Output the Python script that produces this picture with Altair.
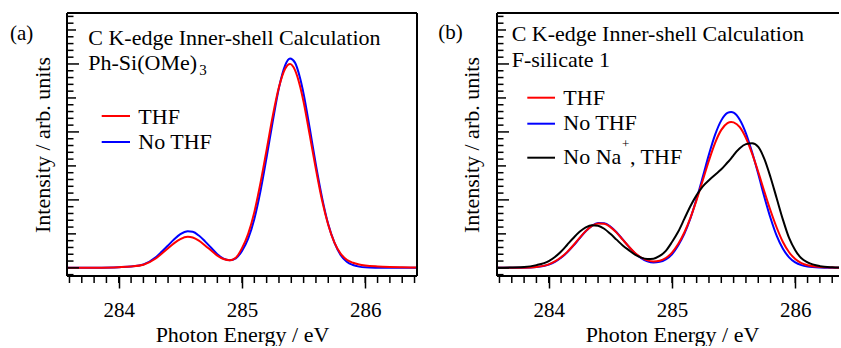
import altair as alt
import pandas as pd

# ---------------- spectra: panel (a) Ph-Si(OMe)3 ----------------
energy_a = [283.58, 283.8, 284.0, 284.1, 284.2, 284.3, 284.35, 284.4, 284.45, 284.5,
            284.56, 284.6, 284.65, 284.7, 284.75, 284.8, 284.85, 284.9, 284.95, 285.0,
            285.05, 285.1, 285.15, 285.2, 285.25, 285.3, 285.35, 285.39, 285.43, 285.47,
            285.5, 285.55, 285.6, 285.65, 285.7, 285.75, 285.8, 285.85, 285.9, 285.95,
            286.0, 286.1, 286.2, 286.3, 286.42]
thf_a = [0.0, 0.002, 0.01, 0.02, 0.046, 0.137, 0.21, 0.287, 0.364, 0.424,
         0.456, 0.446, 0.40, 0.33, 0.255, 0.18, 0.13, 0.112, 0.15, 0.29,
         0.5, 0.82, 1.25, 1.74, 2.24, 2.66, 2.93, 3.0, 2.91, 2.68,
         2.44, 1.95, 1.45, 0.99, 0.63, 0.37, 0.21, 0.12, 0.075, 0.05,
         0.035, 0.02, 0.012, 0.008, 0.005]
no_thf_a = [0.0, 0.002, 0.01, 0.02, 0.05, 0.155, 0.24, 0.33, 0.42, 0.495,
            0.538, 0.53, 0.475, 0.39, 0.295, 0.2, 0.135, 0.112, 0.14, 0.25,
            0.43, 0.72, 1.13, 1.63, 2.16, 2.65, 2.98, 3.08, 3.02, 2.8,
            2.56, 2.05, 1.51, 1.03, 0.64, 0.37, 0.19, 0.09, 0.042, 0.018,
            0.007, 0.002, 0.0, 0.0, 0.0]

# ---------------- spectra: panel (b) F-silicate 1 ----------------
energy_b = [283.58, 283.8, 283.9, 284.0, 284.05, 284.1, 284.15, 284.2, 284.25, 284.3,
            284.35, 284.4, 284.45, 284.5, 284.55, 284.6, 284.65, 284.7, 284.75, 284.8,
            284.85, 284.9, 284.95, 285.0, 285.05, 285.1, 285.15, 285.2, 285.25, 285.3,
            285.35, 285.4, 285.45, 285.48, 285.5, 285.55, 285.6, 285.65, 285.7, 285.75,
            285.8, 285.85, 285.9, 285.95, 286.0, 286.05, 286.1, 286.2, 286.3, 286.37]
thf_b = [0.0, 0.003, 0.014, 0.052, 0.094, 0.155, 0.235, 0.333, 0.44, 0.54,
         0.617, 0.654, 0.648, 0.6, 0.518, 0.415, 0.312, 0.22, 0.152, 0.11,
         0.095, 0.105, 0.145, 0.225, 0.35, 0.52, 0.74, 1.0, 1.29, 1.58,
         1.84, 2.03, 2.13, 2.147, 2.14, 2.07, 1.91, 1.68, 1.41, 1.12,
         0.84, 0.59, 0.38, 0.23, 0.13, 0.07, 0.037, 0.012, 0.004, 0.002]
no_thf_b = [0.0, 0.002, 0.012, 0.048, 0.088, 0.148, 0.228, 0.326, 0.434, 0.538,
            0.618, 0.66, 0.657, 0.608, 0.524, 0.418, 0.312, 0.216, 0.144, 0.098,
            0.08, 0.088, 0.125, 0.2, 0.33, 0.5, 0.73, 1.02, 1.34, 1.67,
            1.96, 2.17, 2.28, 2.294, 2.285, 2.18, 1.98, 1.7, 1.38, 1.04,
            0.73, 0.47, 0.28, 0.155, 0.08, 0.04, 0.02, 0.005, 0.001, 0.0]
no_na_thf_b = [0.002, 0.013, 0.04, 0.1, 0.16, 0.24, 0.34, 0.44, 0.53, 0.595,
               0.628, 0.62, 0.575, 0.5, 0.415, 0.33, 0.26, 0.195, 0.15, 0.13,
               0.135, 0.175, 0.25, 0.38, 0.53, 0.72, 0.91, 1.07, 1.2, 1.29,
               1.37, 1.45, 1.55, 1.61, 1.66, 1.76, 1.82, 1.835, 1.78, 1.6,
               1.33, 1.02, 0.71, 0.44, 0.26, 0.14, 0.08, 0.025, 0.008, 0.003]

# ---------------- axis ticks ----------------
x_major = [284, 285, 286]
x_minor = [round(283.6 + 0.1 * i, 1) for i in range(29)]
y_ticks = [round(-0.1 + 0.1 * i, 1) for i in range(39)]

FONT = "Times New Roman, Liberation Serif, serif"
PLOT_H = 263
EV_MIN = 283.58
PX_PER_EV = 350 / 2.84
Y_DOMAIN = [-0.12, 3.75]
RED = "#ff0000"
BLUE = "#0000ff"
BLACK = "#000000"


def one_row():
    return pd.DataFrame({"k": [0]})


def text(label, x, y, size=22, align="left", baseline="alphabetic"):
    return alt.Chart(pd.DataFrame({"label": [label]})).mark_text(
        font=FONT, fontSize=size, align=align, baseline=baseline, color="black"
    ).encode(x=alt.value(x), y=alt.value(y), text="label:N")


def hline(x1, x2, y, color="black", width=2):
    return alt.Chart(one_row()).mark_rule(color=color, strokeWidth=width).encode(
        x=alt.value(x1), x2=alt.value(x2), y=alt.value(y))


def vline(x, y1, y2, color="black", width=2):
    return alt.Chart(one_row()).mark_rule(color=color, strokeWidth=width).encode(
        x=alt.value(x), y=alt.value(y1), y2=alt.value(y2))


def panel(energy, curves, width, y_title_x, annotations, right_edge):
    x_max = EV_MIN + width / PX_PER_EV
    xs = alt.Scale(domain=[EV_MIN, x_max], nice=False, zero=False)
    ys = alt.Scale(domain=Y_DOMAIN, nice=False, zero=False)

    x_axis = alt.Axis(
        values=x_major, format="d", grid=False, domain=False,
        tickSize=12, tickWidth=1.5, tickColor="black",
        labelFont=FONT, labelFontSize=21, labelColor="black",
        labelPadding=28.8, labelBaseline="alphabetic",
        title="Photon Energy / eV", titleFont=FONT, titleFontSize=22,
        titleFontWeight="normal", titleColor="black",
        titleX=175, titleY=65.5, titleBaseline="alphabetic", titleAlign="center",
    )
    y_axis = alt.Axis(
        labels=False, ticks=False, domain=False, grid=False,
        title="Intensity / arb. units", titleFont=FONT, titleFontSize=22,
        titleFontWeight="normal", titleColor="black",
        titleX=y_title_x, titleY=PLOT_H / 2, titleAngle=270,
        titleBaseline="alphabetic", titleAlign="center",
    )

    layers = []
    for values, color in curves:
        df = pd.DataFrame({"energy": energy, "intensity": values})
        layers.append(
            alt.Chart(df).mark_line(color=color, strokeWidth=2, clip=True,
                                    interpolate="monotone").encode(
                x=alt.X("energy:Q", scale=xs, axis=x_axis),
                y=alt.Y("intensity:Q", scale=ys, axis=y_axis),
            )
        )

    # minor ticks on the energy axis, pointing outwards
    minor = pd.DataFrame({"tick": [t for t in x_minor if t <= x_max]})
    layers.append(
        alt.Chart(minor).mark_rule(color="black", strokeWidth=1.5).encode(
            x=alt.X("tick:Q", scale=xs, axis=x_axis),
            y=alt.value(PLOT_H), y2=alt.value(PLOT_H + 7))
    )

    # intensity ticks drawn inside the frame: major, half and minor steps
    yt = pd.DataFrame({"tick": y_ticks})
    yt["kind"] = ["major" if abs(t - round(t)) < 1e-9 else
                  ("half" if abs(t * 2 - round(t * 2)) < 1e-9 else "minor")
                  for t in y_ticks]
    for kind, length in [("major", 12), ("half", 9), ("minor", 6.5)]:
        layers.append(
            alt.Chart(yt).transform_filter(alt.datum.kind == kind)
            .mark_rule(color="black", strokeWidth=1.5).encode(
                y=alt.Y("tick:Q", scale=ys, axis=y_axis),
                x=alt.value(0), x2=alt.value(length))
        )

    # frame
    layers.append(hline(0, width, 0))
    layers.append(hline(0, width, PLOT_H))
    layers.append(vline(0, 0, PLOT_H))
    if right_edge:
        layers.append(vline(width, 0, PLOT_H))

    layers.extend(annotations)
    return alt.layer(*layers).properties(width=width, height=PLOT_H)


ann_a = [
    text("(a)", -57, 26.5, size=21),
    text("C K-edge Inner-shell Calculation", 21.3, 32.4),
    text("Ph-Si(OMe)", 21.3, 57.4),
    text("3", 132.3, 61.7, size=15),
    hline(34.7, 63, 103, RED),
    text("THF", 71.3, 110.7),
    hline(34.7, 63, 129, BLUE),
    text("No THF", 71.3, 136.4),
]

ann_b = [
    text("(b)", -58.7, 26, size=21),
    text("C K-edge Inner-shell Calculation", 14.7, 28.4),
    text("F-silicate 1", 14.7, 54),
    hline(30.3, 58, 84.7, RED),
    text("THF", 66.3, 91.7),
    hline(30.3, 58, 110.7, BLUE),
    text("No THF", 66.3, 117.4),
    hline(30.3, 58, 144.7, BLACK),
    text("No Na", 66.3, 151.4),
    text("+", 128.6, 130.5, size=13, align="center", baseline="middle"),
    text(", THF", 133, 151.4),
]

panel_a = panel(energy_a, [(no_thf_a, BLUE), (thf_a, RED)], 350, -17.7, ann_a, True)
panel_b = panel(energy_b, [(no_thf_b, BLUE), (thf_b, RED), (no_na_thf_b, BLACK)],
                342, -18.5, ann_b, False)

chart = alt.hconcat(panel_a, panel_b, spacing=80, bounds="flush").properties(
    padding={"left": 10, "top": 12, "right": 0, "bottom": 0},
    background="white",
).configure_view(stroke=None)

chart.save("out.html", embed_options={"renderer": "svg", "actions": False})
